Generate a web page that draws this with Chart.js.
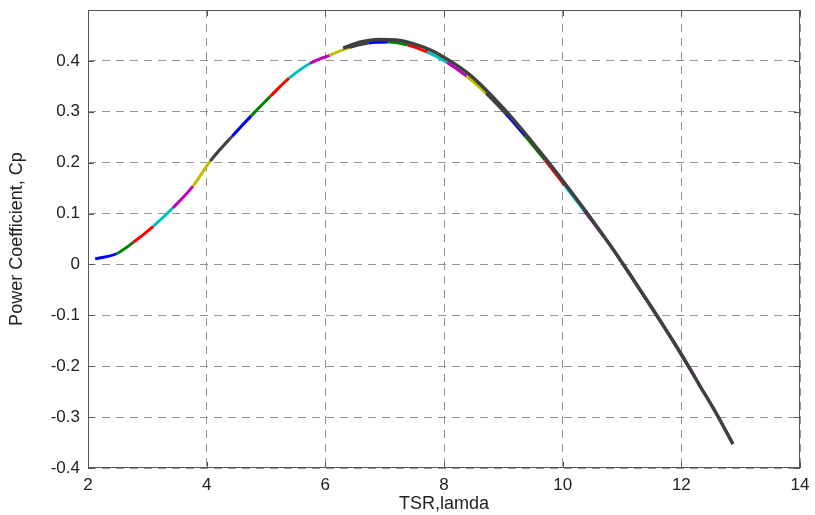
<!DOCTYPE html>
<html>
<head>
<meta charset="utf-8">
<script src="https://cdn.jsdelivr.net/npm/chart.js@4.4.0/dist/chart.umd.min.js"></script>
<style>
  html, body { margin: 0; padding: 0; background: #fff; }
</style>
</head>
<body>
<canvas id="chart" width="815" height="515"></canvas>
<script>
// colored Cp curve (one colour per segment, matlab cycle b g r c m y k)
var tsr = [2.12, 2.48, 2.76, 3.10, 3.43, 3.77, 4.06, 4.43, 4.75, 5.07, 5.39, 5.74,
           6.07, 6.40, 6.73, 7.06, 7.39, 7.72, 8.05, 8.38, 8.71, 9.04, 9.37, 9.70,
           10.03, 10.36, 10.69, 11.02, 11.35, 11.68, 12.01, 12.23];
var cp = [0.011, 0.021, 0.043, 0.075, 0.111, 0.154, 0.203, 0.252, 0.292, 0.330, 0.366, 0.395,
          0.411, 0.426, 0.435, 0.437, 0.431, 0.417, 0.397, 0.370, 0.336, 0.296, 0.252, 0.205,
          0.156, 0.106, 0.055, 0.001, -0.058, -0.117, -0.178, -0.221];

// dark curve drawn on top on the right side
var tsrDark = [6.30, 6.60, 6.90, 7.20, 7.50, 7.80, 8.10, 8.40, 8.70, 9.00, 9.30, 9.60,
               9.90, 10.20, 10.50, 10.80, 11.10, 11.40, 11.70, 12.00, 12.30, 12.60, 12.87];
var cpDark = [0.425, 0.437, 0.442, 0.441, 0.433, 0.420, 0.400, 0.376, 0.344, 0.307, 0.267, 0.224,
              0.180, 0.134, 0.087, 0.038, -0.014, -0.067, -0.121, -0.177, -0.236, -0.295, -0.353];

var segColors = ['#0000ff', '#008000', '#ff0000', '#00bfbf', '#bf00bf', '#bfbf00', '#404040'];

var xMin = 2, xMax = 14, xStep = 2;
var yMin = -0.4, yMax = 0.5, yStep = 0.1;

function pts(xs, ys) {
  return xs.map(function (x, i) { return { x: x, y: ys[i] }; });
}

// box around the plot + small inner ticks like matlab
var boxPlugin = {
  id: 'box',
  beforeDatasetsDraw: function (chart) {
    var a = chart.chartArea, ctx = chart.ctx;
    var sx = chart.scales.x, sy = chart.scales.y;
    ctx.save();
    ctx.setLineDash([]);
    ctx.strokeStyle = '#555';
    ctx.lineWidth = 1;
    ctx.strokeRect(a.left + 0.5, a.top + 0.5, a.right - a.left - 1, a.bottom - a.top - 1);
    ctx.beginPath();
    sx.ticks.forEach(function (t) {
      var px = Math.round(sx.getPixelForValue(t.value)) + 0.5;
      ctx.moveTo(px, a.bottom); ctx.lineTo(px, a.bottom - 6);
      ctx.moveTo(px, a.top); ctx.lineTo(px, a.top + 6);
    });
    sy.ticks.forEach(function (t) {
      var py = Math.round(sy.getPixelForValue(t.value)) + 0.5;
      ctx.moveTo(a.left, py); ctx.lineTo(a.left + 6, py);
      ctx.moveTo(a.right, py); ctx.lineTo(a.right - 6, py);
    });
    ctx.stroke();
    ctx.restore();
  }
};

var font = 'Liberation Sans, Arial, sans-serif';

new Chart(document.getElementById('chart'), {
  type: 'line',
  data: {
    datasets: [{
      // dark one first so it sits on top
      data: pts(tsrDark, cpDark),
      borderWidth: 3.5,
      pointRadius: 0,
      cubicInterpolationMode: 'monotone',
      borderColor: '#404040',
      fill: false
    }, {
      data: pts(tsr, cp),
      borderWidth: 3,
      pointRadius: 0,
      cubicInterpolationMode: 'monotone',
      borderColor: segColors[0],
      segment: {
        borderColor: function (ctx) { return segColors[ctx.p0DataIndex % segColors.length]; }
      },
      fill: false
    }]
  },
  options: {
    responsive: false,
    animation: false,
    events: [],
    layout: { padding: { top: 10, right: 15, left: 0, bottom: 0 } },
    plugins: { legend: { display: false }, tooltip: { enabled: false } },
    scales: {
      x: {
        type: 'linear',
        min: xMin, max: xMax,
        ticks: { stepSize: xStep, color: '#222', font: { family: font, size: 17 }, padding: 7 },
        grid: { color: '#959595', drawTicks: false },
        border: { display: false, dash: [8, 6] },
        title: { display: true, text: 'TSR,lamda', color: '#222', font: { family: font, size: 18 }, padding: 0 },
        afterFit: function (scale) { scale.height = 47; scale.paddingLeft = 0; scale.paddingRight = 0; }
      },
      y: {
        type: 'linear',
        min: yMin, max: yMax,
        ticks: {
          stepSize: yStep, color: '#222', font: { family: font, size: 17 }, padding: 8,
          callback: function (v) {
            var r = Math.round(v * 10) / 10;
            if (r === 0.5) return '';
            return r === 0 ? '0' : r.toFixed(1);
          }
        },
        grid: { color: '#959595', drawTicks: false },
        border: { display: false, dash: [8, 6] },
        title: { display: true, text: 'Power Coefficient, Cp', color: '#222', font: { family: font, size: 18 }, padding: { top: 6, bottom: 0 } },
        afterFit: function (scale) { scale.width = 88; scale.paddingTop = 0; scale.paddingBottom = 0; }
      }
    }
  },
  plugins: [boxPlugin]
});
</script>
</body>
</html>
